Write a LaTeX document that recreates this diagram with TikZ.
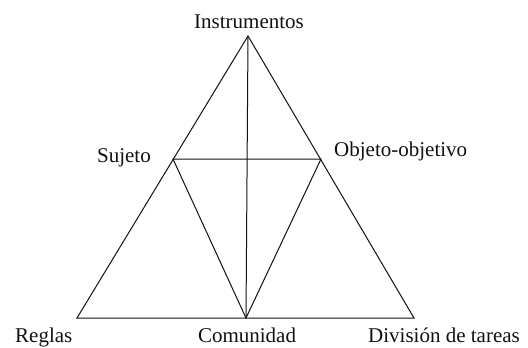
\documentclass[tikz,border=0pt]{standalone}
\usepackage{fontspec}
\setmainfont{Liberation Serif}
\usepackage{xcolor}
\usetikzlibrary{positioning,calc}
\definecolor{ink}{HTML}{111111}
\tikzset{
  edge/.style={draw=ink, line width=1pt},
  lbl/.style={inner sep=0pt, font=\fontsize{21}{24}\selectfont, text=ink},
}

\begin{document}
\begin{tikzpicture}[x=1pt, y=-1pt]
  \useasboundingbox (0,0) rectangle (528,348);
  % corners of the triangle
  \coordinate (ins) at (248,36);
  \coordinate (reg) at (77,318);
  \coordinate (div) at (414,318);
  \coordinate (com) at (246,318);
  \coordinate (suj) at (173,159);
  \coordinate (obj) at (321,159);
  % lines
  \draw[edge] (ins) -- (reg) -- (div) -- cycle;
  \draw[edge] (suj) -- (obj) -- (com) -- cycle;
  \draw[edge] (ins) -- (com);
  % labels
  \node[lbl, anchor=base] (tins) at (249,28) {Instrumentos};
  \node[lbl, anchor=base east] (tsuj) at (151,162) {Sujeto};
  \node[lbl, anchor=base west] (tobj) at (334,156) {Objeto-objetivo};
  \node[lbl, anchor=base west] (treg) at (15,342) {Reglas};
  \node[lbl, anchor=base] (tcom) at (247,342) {Comunidad};
  \node[lbl, anchor=base west] (tdiv) at (368,342) {División de tareas};
\end{tikzpicture}
\end{document}
